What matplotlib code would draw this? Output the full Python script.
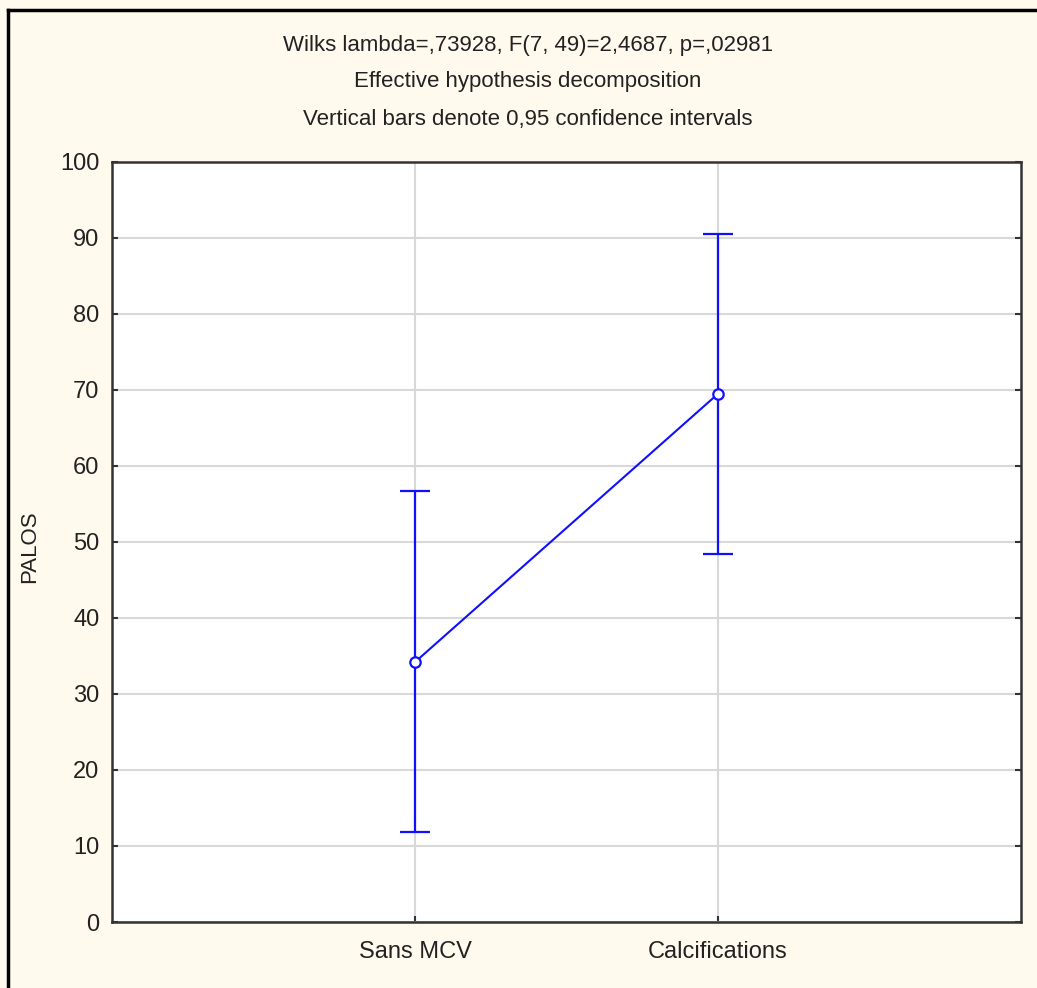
import matplotlib
matplotlib.use("Agg")
import matplotlib.pyplot as plt
from matplotlib.lines import Line2D
from matplotlib import font_manager

# Data
groups = ["Sans MCV", "Calcifications"]
means = [34.2, 69.5]
ci_low = [11.8, 48.4]
ci_high = [56.7, 90.5]
y_ticks = [0, 10, 20, 30, 40, 50, 60, 70, 80, 90, 100]
title_lines = [
    "Wilks lambda=,73928, F(7, 49)=2,4687, p=,02981",
    "Effective hypothesis decomposition",
    "Vertical bars denote 0,95 confidence intervals",
]

available = {f.name for f in font_manager.fontManager.ttflist}
narrow = "Liberation Sans Narrow" if "Liberation Sans Narrow" in available else "Liberation Sans"
plt.rcParams["font.family"] = [narrow, "DejaVu Sans"]
text_color = "#222222"

W, H = 1037, 988
fig = plt.figure(figsize=(W / 100, H / 100), dpi=100)
fig.patch.set_facecolor("#fff9ee")

# axes box in pixels: left 112, right 1021, top 162, bottom 922
ax = fig.add_axes([112 / W, 1 - 922 / H, (1021 - 112) / W, (922 - 162) / H])
ax.set_facecolor("white")

x = list(range(1, len(groups) + 1))
yerr = [[m - lo for m, lo in zip(means, ci_low)],
        [hi - m for m, hi in zip(means, ci_high)]]
ax.errorbar(x, means, yerr=yerr, color="#1010ff", lw=1.5, elinewidth=1.6,
            capsize=11, capthick=1.6, marker="o", markersize=7.5,
            markerfacecolor="white", markeredgecolor="#1010ff",
            markeredgewidth=1.6, zorder=3)

ax.set_xlim(0, 3)
ax.set_ylim(0, 100)
ax.set_xticks(x)
ax.set_xticklabels(groups, fontsize=17, color=text_color)
ax.set_yticks(y_ticks)
ax.set_yticklabels([str(t) for t in y_ticks], fontsize=17, color=text_color)
ax.grid(True, color="#d8d8d8", lw=1.5)
ax.set_axisbelow(True)
ax.tick_params(axis="both", direction="in", length=4, width=1.5, color="#333333",
               right=True, pad=9)
ax.tick_params(axis="x", pad=14)
for s in ax.spines.values():
    s.set_color("#333333")
    s.set_linewidth(1.8)

ax.set_ylabel("PALOS", fontsize=16, color=text_color,
              family=["Liberation Sans", "DejaVu Sans"])
ax.yaxis.set_label_coords((40 - 112) / (1021 - 112), (922 - 547) / (922 - 162))

for line, yp in zip(title_lines, [45, 82, 120]):
    fig.text(528 / W, 1 - yp / H, line, ha="center", va="center", fontsize=16,
             color=text_color)

# outer frame
fig.add_artist(Line2D([8 / W, 8 / W], [0, 1 - 10 / H], transform=fig.transFigure,
                      color="black", lw=2.5))
fig.add_artist(Line2D([8 / W, 1], [1 - 10 / H, 1 - 10 / H], transform=fig.transFigure,
                      color="black", lw=2.5))

fig.savefig("out.png", dpi=100, facecolor=fig.get_facecolor())
